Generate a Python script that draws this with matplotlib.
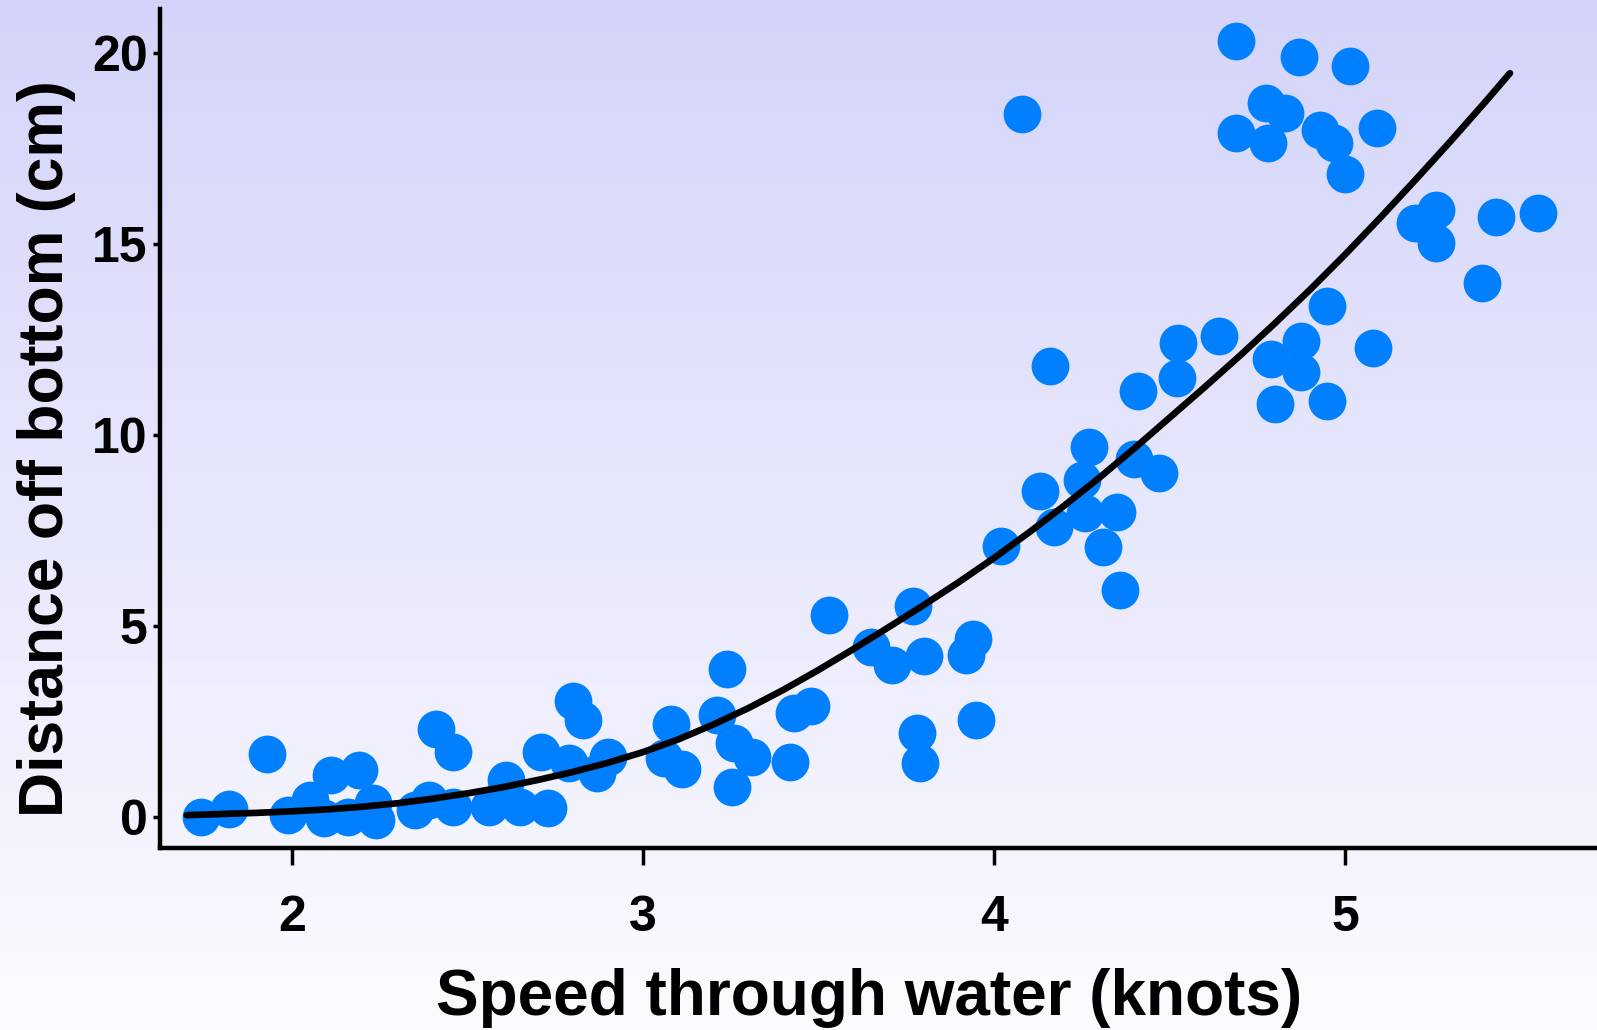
import numpy as np
import matplotlib
matplotlib.use("Agg")
import matplotlib.pyplot as plt

# measured points: speed (knots) vs distance off bottom (cm)
speed = [1.74, 1.82, 1.93, 1.99, 2.05, 2.11, 2.19, 2.09, 2.16, 2.23, 2.24, 2.35,
         2.39, 2.41, 2.46, 2.46, 2.56, 2.61, 2.65, 2.71, 2.73, 2.79, 2.80, 2.83,
         2.90, 2.87, 3.08, 3.11, 3.06, 3.21, 3.24, 3.26, 3.31, 3.255, 3.42, 3.43,
         3.48, 3.53, 3.77, 3.65, 3.71, 3.80, 3.94, 3.92, 3.95, 3.78, 3.79,
         4.36, 4.02, 4.13, 4.17, 4.25, 4.27, 4.26, 4.35, 4.31, 4.40, 4.47, 4.16,
         4.41, 4.52, 4.525, 4.64, 4.80, 4.79, 4.875, 4.875, 4.95, 5.08, 4.95, 4.08,
         4.69, 4.87, 5.015, 4.775, 4.83, 4.69, 4.78, 4.93, 4.97, 5.00, 5.09, 5.26,
         5.20, 5.26, 5.43, 5.55, 5.39]
distance = [0.0, 0.21, 1.65, 0.05, 0.45, 1.1, 1.23, -0.03, 0.0, 0.37, -0.08, 0.18,
            0.45, 2.3, 1.7, 0.26, 0.26, 0.97, 0.26, 1.7, 0.24, 1.41, 3.04, 2.54,
            1.57, 1.15, 2.43, 1.25, 1.55, 2.67, 3.87, 1.94, 1.57, 0.79, 1.44, 2.72,
            2.91, 5.29, 5.52, 4.45, 3.98, 4.21, 4.66, 4.24, 2.54, 2.2, 1.41,
            5.94, 7.09, 8.53, 7.6, 8.82, 9.69, 7.96, 7.98, 7.07, 9.37, 9.0, 11.8,
            11.15, 11.49, 12.4, 12.6, 10.8, 12.0, 12.45, 11.65, 10.9, 12.28, 13.38, 18.4,
            20.31, 19.9, 19.66, 18.69, 18.43, 17.9, 17.64, 17.98, 17.64, 16.83, 18.04, 15.89,
            15.55, 15.03, 15.71, 15.81, 13.98]

# fitted curve
fit_x = [1.7, 1.8, 1.9, 2.0, 2.1, 2.2, 2.3, 2.4, 2.5, 2.6, 2.7, 2.8, 2.9,
         3.0, 3.1, 3.2, 3.3, 3.4, 3.5, 3.6, 3.7, 3.8, 3.9, 4.0, 4.1, 4.2,
         4.3, 4.4, 4.5, 4.6, 4.7, 4.8, 4.9, 5.0, 5.1, 5.2, 5.3, 5.4, 5.47]
fit_y = [0.05, 0.08, 0.11, 0.15, 0.20, 0.27, 0.36, 0.48, 0.62, 0.78, 0.97, 1.18, 1.42,
         1.70, 2.03, 2.42, 2.85, 3.33, 3.85, 4.40, 4.97, 5.55, 6.15, 6.78, 7.45, 8.15,
         8.88, 9.65, 10.45, 11.25, 12.07, 12.92, 13.80, 14.72, 15.68, 16.67, 17.68, 18.72, 19.47]

xticks = [2, 3, 4, 5]
yticks = [0, 5, 10, 15, 20]

plt.rcParams['font.family'] = ['Liberation Sans', 'DejaVu Sans']
plt.rcParams['font.weight'] = 'bold'

fig = plt.figure(figsize=(15.97, 10.30), dpi=100)

# lavender -> white background gradient over whole figure
bg = fig.add_axes([0, 0, 1, 1], zorder=-10)
top = np.array([212, 212, 250]) / 255.0
bot = np.array([251, 251, 255]) / 255.0
t = np.linspace(0, 1, 256)[:, None]
grad = top[None, :] * (1 - t) + bot[None, :] * t
bg.imshow(grad[:, None, :], aspect='auto', extent=[0, 1, 0, 1])
bg.axis('off')

ax = fig.add_axes([0.1002, 0.1767, 0.8998, 0.8146])
ax.patch.set_alpha(0)

ax.scatter(speed, distance, s=740, c='#0080ff', marker='o', linewidths=0,
           zorder=2, clip_on=False)
ax.plot(fit_x, fit_y, color='black', lw=4.8, solid_capstyle='round',
        solid_joinstyle='round', zorder=3)

ax.set_xlim(1.624, 5.718)
ax.set_ylim(-0.81, 21.15)
ax.set_xticks(xticks)
ax.set_yticks(yticks)
ax.spines['top'].set_visible(False)
ax.spines['right'].set_visible(False)
for s in ['left', 'bottom']:
    ax.spines[s].set_linewidth(3.2)
ax.tick_params(axis='x', length=12, width=2.5, pad=22, labelsize=36)
ax.tick_params(axis='y', length=5, width=2.5, pad=4, labelsize=36)

fig.text(869 / 1597, 15 / 1030, 'Speed through water (knots)', fontsize=46,
         fontweight='bold', ha='center', va='baseline')
fig.text(47 / 1597, 1 - 449 / 1030, 'Distance off bottom (cm)', fontsize=45,
         fontweight='bold', ha='center', va='center', rotation=90)

fig.savefig('out.png', dpi=100)
